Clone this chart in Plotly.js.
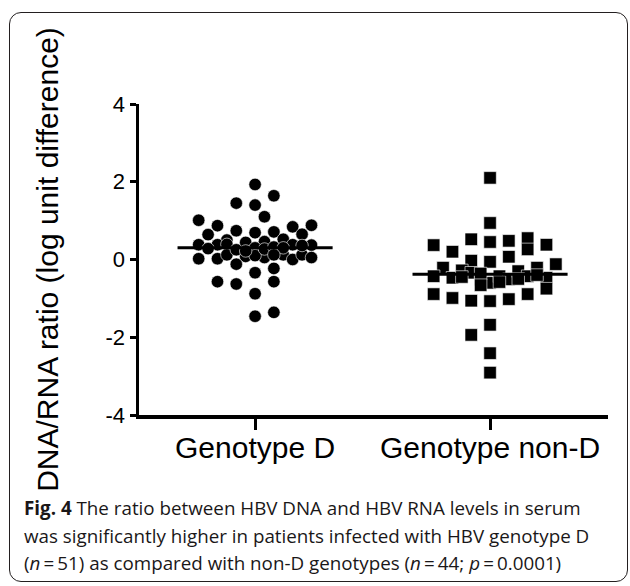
<!DOCTYPE html>
<html>
<head>
<meta charset="utf-8">
<script src="https://cdn.plot.ly/plotly-3.0.1.min.js"></script>
<style>
  html, body { margin: 0; padding: 0; background: #fff; }
  #wrap { position: relative; width: 630px; height: 586px; overflow: hidden; }
  #chart { position: absolute; left: 0; top: 0; width: 630px; height: 586px; }
  #frame { position: absolute; left: 9px; top: 12px; width: 617px; height: 568px;
           border: 1.6px solid #231f20; border-radius: 12px; pointer-events: none; }
</style>
</head>
<body>
<div id="wrap">
  <div id="chart"></div>
  <div id="frame"></div>
</div>
<script>
// ---- data ----
const categories = ["Genotype D", "Genotype non-D"];
const yTickValues = [-4, -2, 0, 2, 4];
const yTickLabels = ["-4", "-2", "0", "2", "4"];

// Genotype D (n = 51): log-unit DNA/RNA ratio, and the dot-plot column each dot sits in
const genotypeDValues = [1.93, 1.64, 1.45, 1.40, 1.10, 1.01, 0.87, 0.84, 0.88, 0.64,
  0.74, 0.69, 0.71, 0.65, 0.50, 0.52, 0.38, 0.38, 0.44, 0.46,
  0.38, 0.37, 0.39, 0.02, 0.02, 0.12, 0.08, 0.05, 0.12, 0.00,
  0.12, 0.05, -0.12, -0.34, -0.23, -0.57, -0.63, -0.57, -0.88, -1.46,
  -1.36, 0.28, 0.25, 0.30, 0.10, 0.27, 0.32, 0.30, 0.36, 0.22, 0.12];
const genotypeDColumns = [0, 2, -2, 0, 1, -6, -4, 4, 6, -5,
  -2, 0, 2, 5, -3, 3, -6, -4, -1, 1,
  4, 6, -3, -6, -4, -3, -1, 1, 3, 4,
  5, 6, -2, 0, 2, -4, -2, 2, 0, 0,
  2, -5, -2, 0, 0, 1, 2, 3, 5, -1, 2];
const genotypeDMean = 0.30;

// Genotype non-D (n = 44)
const genotypeNonDValues = [2.10, 0.94, 0.52, 0.45, 0.48, 0.55, 0.26, 0.37, 0.20, 0.38,
  0.07, -0.03, -0.06, -0.12, -0.21, -0.21, -0.28, -0.43, -0.47, -0.34,
  -0.51, -0.60, -0.43, -0.51, -0.30, -0.43, -0.47, -0.75, -0.89, -0.99,
  -1.06, -1.07, -1.02, -0.89, -1.68, -1.94, -2.41, -2.91,
  -0.36, -0.58, -0.50, -0.40, -0.45, -0.66];
const genotypeNonDColumns = [0, 0, -2, 0, 2, 4, 4, -6, -4, 6,
  2, -2, 0, 7, -5, 5, -3, -6, -4, -2,
  -1, 0, 1, 2, 3, 4, 6, 6, -6, -4,
  -2, 0, 2, 4, 0, -2, 0, 0,
  -1, 1, 3, 5, -3, -1];
const genotypeNonDMean = -0.38;

// ---- drawing ----
const columnStep = 0.04;   // horizontal spread of the dot-plot columns
const meanHalfWidth = 0.33;

function xs(center, cols) { return cols.map(c => center + c * columnStep); }

const font = "Liberation Sans, Arial, Helvetica, sans-serif";

const traces = [
  {
    type: "scatter", mode: "markers", name: categories[0],
    x: xs(0, genotypeDColumns), y: genotypeDValues,
    marker: { symbol: "circle", size: 12.5, color: "#000",
              line: { width: 0.6, color: "#fff" } },
    hoverinfo: "y"
  },
  {
    type: "scatter", mode: "markers", name: categories[1],
    x: xs(1, genotypeNonDColumns), y: genotypeNonDValues,
    marker: { symbol: "square", size: 12.5, color: "#000",
              line: { width: 0.6, color: "#fff" } },
    hoverinfo: "y"
  },
  {
    type: "scatter", mode: "lines", name: "mean D",
    x: [0 - meanHalfWidth, 0 + meanHalfWidth], y: [genotypeDMean, genotypeDMean],
    line: { color: "#000", width: 3 }, hoverinfo: "skip"
  },
  {
    type: "scatter", mode: "lines", name: "mean non-D",
    x: [1 - meanHalfWidth, 1 + meanHalfWidth], y: [genotypeNonDMean, genotypeNonDMean],
    line: { color: "#000", width: 3 }, hoverinfo: "skip"
  }
];

const plotTop = 104, plotBottom = 415;
function paperY(py) { return (plotBottom - py) / (plotBottom - plotTop); }
const plotLeft = 139, plotRight = 608;
function paperX(px) { return (px - plotLeft) / (plotRight - plotLeft); }

const captionFont = { family: "Open Sans, Noto Sans, sans-serif", size: 18.8, color: "#1a1718" };
const captionLines = [
  "<b>Fig. 4</b> The ratio between HBV DNA and HBV RNA levels in serum",
  "was significantly higher in patients infected with HBV genotype D",
  "(<i>n</i>\u2009=\u200951) as compared with non-D genotypes (<i>n</i>\u2009=\u200944; <i>p</i>\u2009=\u20090.0001)"
];
const captionY = [508, 536, 563];

const layout = {
  width: 630, height: 586,
  margin: { l: plotLeft, r: 630 - plotRight, t: plotTop, b: 586 - plotBottom, pad: 0 },
  paper_bgcolor: "#fff", plot_bgcolor: "#fff",
  showlegend: false,
  font: { family: font, color: "#000" },
  xaxis: {
    range: [-0.494, 1.502], tickvals: [0, 1], ticktext: categories,
    showline: true, linewidth: 3.5, linecolor: "#000",
    ticks: "outside", ticklen: 11, tickwidth: 3, tickcolor: "#000",
    ticklabelstandoff: -8,
    showgrid: false, zeroline: false,
    tickfont: { family: font, size: 30, color: "#000" },
    fixedrange: true
  },
  yaxis: {
    range: [-4, 4], tickvals: yTickValues, ticktext: yTickLabels,
    showline: true, linewidth: 3.5, linecolor: "#000",
    ticks: "outside", ticklen: 6, tickwidth: 3, tickcolor: "#000",
    showgrid: false, zeroline: false,
    tickfont: { family: font, size: 22, color: "#000" },
    title: { text: "DNA/RNA ratio (log unit difference)",
             font: { family: font, size: 30, color: "#000" }, standoff: 39 },
    fixedrange: true
  },
  annotations: captionLines.map((t, i) => ({
    text: t, xref: "paper", yref: "paper",
    x: paperX(22), y: paperY(captionY[i]),
    xanchor: "left", yanchor: "middle", showarrow: false,
    align: "left", font: captionFont
  }))
};

Plotly.newPlot("chart", traces, layout, { displayModeBar: false, staticPlot: true });
</script>
</body>
</html>
